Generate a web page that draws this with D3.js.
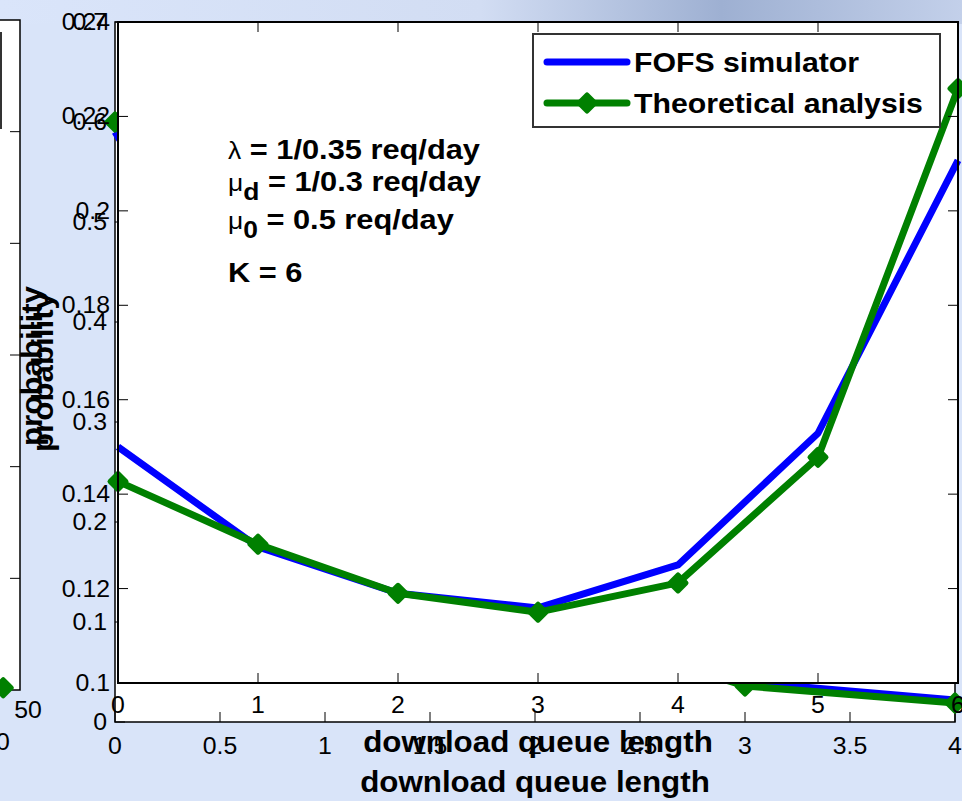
<!DOCTYPE html>
<html>
<head>
<meta charset="utf-8">
<script src="https://cdn.jsdelivr.net/npm/d3@7"></script>
<style>
	body { margin: 0; background: #d9e4f9; }
	svg { display: block; }
	text { font-family: "Liberation Sans", Arial, sans-serif; fill: #000; }
</style>
</head>
<body>
<svg id="chart" width="962" height="801"></svg>
<script>
// front axes: download queue length 0..6
var queueLength = [0, 1, 2, 3, 4, 5, 6];
var fofsSim     = [0.150, 0.1288, 0.119, 0.1159, 0.125, 0.1529, 0.2107];
var theory      = [0.1427, 0.1294, 0.119, 0.1150, 0.1212, 0.1478, 0.2259];
var frontXTicks = [0, 1, 2, 3, 4, 5, 6];
var frontYTicks = [0.1, 0.12, 0.14, 0.16, 0.18, 0.2, 0.22, 0.24];

// back axes (mostly covered by the front one)
var backX       = [0, 1, 2, 3, 4];
var backSim     = [0.59, 0.25, 0.1, 0.04, 0.022];
var backTheory  = [0.60, 0.24, 0.1, 0.036, 0.019];
var backXTicks  = [0, 0.5, 1, 1.5, 2, 2.5, 3, 3.5, 4];
var backYTicks  = [0, 0.1, 0.2, 0.3, 0.4, 0.5, 0.6, 0.7];

// left axes, only its right edge is on screen
var leftX       = [49];
var leftY       = [0.002];
var leftYTicks  = [0.1, 0.2, 0.3, 0.4, 0.5];

var legendLabels = ["FOFS simulator", "Theoretical analysis"];
var xLabel = "download queue length";
var yLabel = "probability";

var BLUE = "#0000ff", GREEN = "#008000";
var svg = d3.select("#chart");
var fmt = function (d) { return String(+d.toFixed(2)); };

// text with a small horizontal stretch, like the original render
//- - - - - - - - - - - - - - - - - - - - - -
var label = function (g, x, y, str, size, anchor, bold) {
	return g.append("text")
		.attr("transform", "translate(" + x + "," + y + ") scale(1.08,1)")
		.attr("text-anchor", anchor || "start")
		.style("font-size", size + "px")
		.style("font-weight", bold ? "bold" : "normal")
		.text(str);
};

// diamond marker
//- - - - - - - - - - - - - - - - - - - - - -
var marker = function (g, x, y) {
	var r = 8;
	g.append("path")
		.attr("d", "M" + (x - r) + "," + y + "L" + x + "," + (y - r) + "L" + (x + r) + "," + y + "L" + x + "," + (y + r) + "Z")
		.attr("fill", GREEN).attr("stroke", GREEN)
		.attr("stroke-width", 5).attr("stroke-linejoin", "round");
};

var drawSeries = function (g, xs, ys, xScale, yScale, color, withMarkers) {
	var line = d3.line()
		.x(function (d, i) { return xScale(xs[i]); })
		.y(function (d) { return yScale(d); });
	g.append("path").datum(ys)
		.attr("d", line)
		.attr("fill", "none").attr("stroke", color)
		.attr("stroke-width", 7).attr("stroke-linejoin", "round");
	if (withMarkers) {
		ys.forEach(function (d, i) { marker(g, xScale(xs[i]), yScale(d)); });
	}
};

// background streak at the top
var defs = svg.append("defs");
var grad = defs.append("linearGradient").attr("id", "topGrad");
grad.append("stop").attr("offset", "0%").attr("stop-color", "#dae5fa");
grad.append("stop").attr("offset", "50%").attr("stop-color", "#d2ddf3");
grad.append("stop").attr("offset", "75%").attr("stop-color", "#9eb0d2");
grad.append("stop").attr("offset", "100%").attr("stop-color", "#c3d0ea");
svg.append("rect").attr("x", 0).attr("y", 0).attr("width", 962).attr("height", 24)
	.attr("fill", "url(#topGrad)");

// ----- left axes -----
var left = svg.append("g");
var lx = d3.scaleLinear().domain([0, 50]).range([-820, 20]);
var ly = d3.scaleLinear().domain([0, 0.6]).range([690, 20]);
left.append("rect").attr("x", -10).attr("y", 20).attr("width", 30).attr("height", 670)
	.attr("fill", "#fff").attr("stroke", "#000").attr("stroke-width", 1.5);
left.append("rect").attr("x", -100).attr("y", 33).attr("width", 101).attr("height", 95)
	.attr("fill", "#fff").attr("stroke", "#333").attr("stroke-width", 2);
leftYTicks.forEach(function (t) {
	left.append("line").attr("x1", 10).attr("x2", 20).attr("y1", ly(t)).attr("y2", ly(t))
		.attr("stroke", "#000").attr("stroke-width", 1);
});
leftY.forEach(function (d, i) { marker(left, lx(leftX[i]), ly(d)); });
label(left, 28, 718, "50", 23, "middle");
label(left, 3, 750, "0", 23, "middle");

// ----- back axes -----
var back = svg.append("g");
var bx = d3.scaleLinear().domain([0, 4]).range([115, 955]);
var by = d3.scaleLinear().domain([0, 0.7]).range([722, 22]);
back.append("rect").attr("x", bx(0)).attr("y", by(0.7))
	.attr("width", bx(4) - bx(0)).attr("height", by(0) - by(0.7))
	.attr("fill", "#fff").attr("stroke", "#000").attr("stroke-width", 1.5);
backXTicks.forEach(function (t) {
	back.append("line").attr("x1", bx(t)).attr("x2", bx(t)).attr("y1", by(0) - 10).attr("y2", by(0))
		.attr("stroke", "#000");
	label(back, bx(t), 754, fmt(t), 23, "middle");
});
backYTicks.forEach(function (t) {
	back.append("line").attr("x1", bx(0)).attr("x2", bx(0) + 10).attr("y1", by(t)).attr("y2", by(t))
		.attr("stroke", "#000");
	label(back, 107, by(t) + 8, fmt(t), 23, "end");
});
drawSeries(back, backX, backSim, bx, by, BLUE, false);
drawSeries(back, backX, backTheory, bx, by, GREEN, true);
label(back, 535, 792, xLabel, 29, "middle", true);
label(back, 0, 0, yLabel, 29, "middle", true)
	.attr("transform", "translate(53,372) rotate(-90) scale(1.08,1)");

// ----- front axes -----
var front = svg.append("g");
var fx = d3.scaleLinear().domain([0, 6]).range([118, 958]);
var fy = d3.scaleLinear().domain([0.1, 0.24]).range([683, 22]);
front.append("rect").attr("x", fx(0)).attr("y", fy(0.24))
	.attr("width", fx(6) - fx(0)).attr("height", fy(0.1) - fy(0.24))
	.attr("fill", "#fff");
drawSeries(front, queueLength, fofsSim, fx, fy, BLUE, false);
drawSeries(front, queueLength, theory, fx, fy, GREEN, true);
front.append("rect").attr("x", fx(0)).attr("y", fy(0.24))
	.attr("width", fx(6) - fx(0)).attr("height", fy(0.1) - fy(0.24))
	.attr("fill", "none").attr("stroke", "#000").attr("stroke-width", 2);
frontXTicks.forEach(function (t) {
	front.append("line").attr("x1", fx(t)).attr("x2", fx(t)).attr("y1", fy(0.1) - 10).attr("y2", fy(0.1))
		.attr("stroke", "#000");
	front.append("line").attr("x1", fx(t)).attr("x2", fx(t)).attr("y1", fy(0.24)).attr("y2", fy(0.24) + 10)
		.attr("stroke", "#000");
	label(front, fx(t), 713, fmt(t), 23, "middle");
});
frontYTicks.forEach(function (t) {
	front.append("line").attr("x1", fx(0)).attr("x2", fx(0) + 10).attr("y1", fy(t)).attr("y2", fy(t))
		.attr("stroke", "#000");
	front.append("line").attr("x1", fx(6) - 10).attr("x2", fx(6)).attr("y1", fy(t)).attr("y2", fy(t))
		.attr("stroke", "#000");
	label(front, 110, fy(t) + 8, fmt(t), 23, "end");
});
label(front, 538, 752, xLabel, 29, "middle", true);
label(front, 0, 0, yLabel, 29, "middle", true)
	.attr("transform", "translate(42,366) rotate(-90) scale(1.08,1)");

// legend
var leg = front.append("g");
leg.append("rect").attr("x", 533).attr("y", 34).attr("width", 407).attr("height", 93)
	.attr("fill", "#fff").attr("stroke", "#333").attr("stroke-width", 2);
[BLUE, GREEN].forEach(function (c, i) {
	var y = 62 + i * 41;
	leg.append("line").attr("x1", 547).attr("x2", 627).attr("y1", y).attr("y2", y)
		.attr("stroke", c).attr("stroke-width", 7).attr("stroke-linecap", "round");
	if (i === 1) { marker(leg, 587, y); }
	label(leg, 634, y + 10, legendLabels[i], 28, "start", true);
});

// parameter notes
var note = front.append("g");
var noteLine = function (x, y, greek, sub, rest) {
	var t = note.append("text")
		.attr("transform", "translate(" + x + "," + y + ") scale(1.1,1)")
		.style("font-size", "28px").style("font-weight", "bold");
	t.append("tspan").style("font-weight", "normal").style("font-size", "24px").text(greek);
	if (sub) {
		t.append("tspan").attr("dy", 9).style("font-size", "24px").text(sub);
		t.append("tspan").attr("dy", -9).text(rest);
	} else {
		t.append("tspan").text(rest);
	}
};
noteLine(228, 159, "\u03bb", null, " = 1/0.35 req/day");
noteLine(228, 191, "\u03bc", "d", " = 1/0.3 req/day");
noteLine(228, 229, "\u03bc", "0", " = 0.5 req/day");
noteLine(228, 282, "", null, "K = 6");
</script>
</body>
</html>
